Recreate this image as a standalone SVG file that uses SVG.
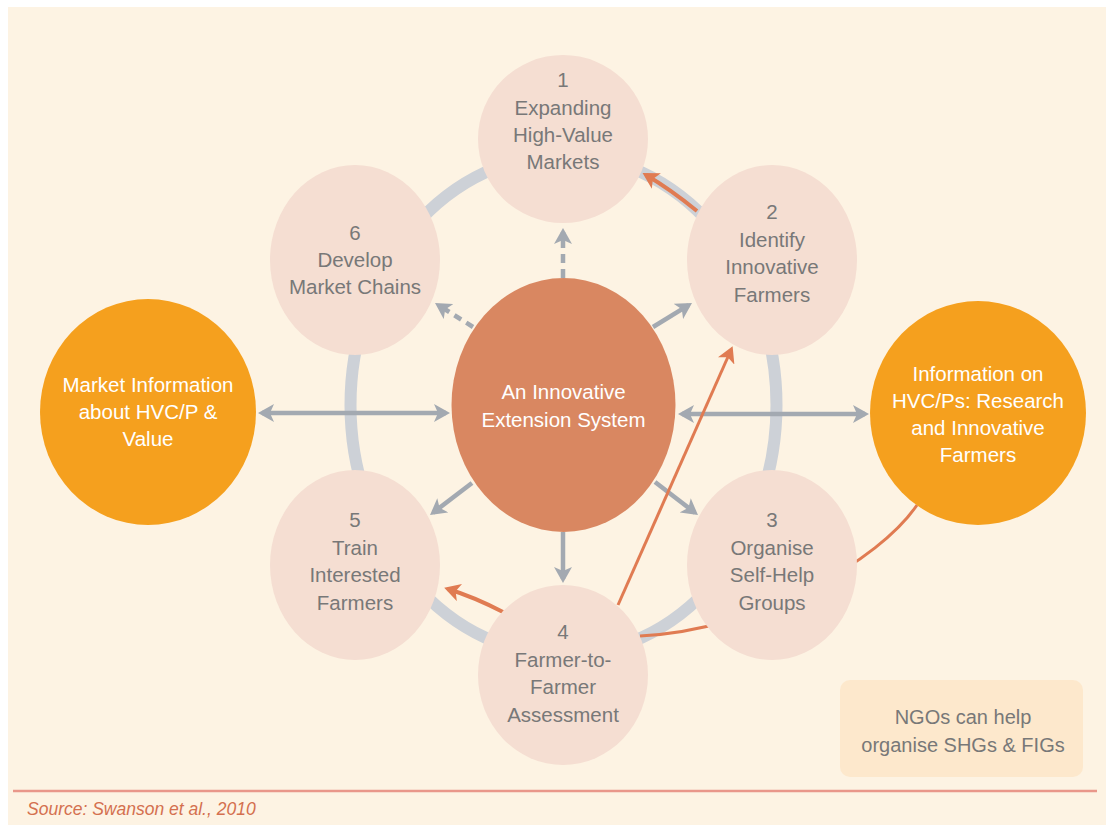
<svg xmlns="http://www.w3.org/2000/svg" width="1106" height="825" viewBox="0 0 1106 825">
<style>
.n{fill:#f5ded2}
.t{font-family:"Liberation Sans",Arial,sans-serif;font-size:20.5px;fill:#787878;text-anchor:middle}
.w{fill:#ffffff}
.g{stroke:#a3a9b1;stroke-width:4.5;fill:none}
.o{stroke:#e07b52;fill:none}
</style>
<defs>
<marker id="ag" markerUnits="userSpaceOnUse" markerWidth="16" markerHeight="18" viewBox="0 0 16 18" refX="12" refY="9" orient="auto-start-reverse">
<path d="M0,0 L16,9 L0,18 L4,9 Z" fill="#a3a9b1"/>
</marker>
<marker id="ao" markerUnits="userSpaceOnUse" markerWidth="16" markerHeight="18" viewBox="0 0 16 18" refX="12" refY="9" orient="auto">
<path d="M0,0 L16,9 L0,18 L4,9 Z" fill="#e07b52"/>
</marker>
</defs>
<rect x="0" y="0" width="1106" height="825" fill="#ffffff"/>
<rect x="8" y="7" width="1098" height="818" fill="#fdf3e3"/>
<ellipse cx="563.5" cy="405" rx="213" ry="250" fill="none" stroke="#cdd1d7" stroke-width="12"/>
<g id="connectors">
<line class="g" x1="563" y1="278" x2="563" y2="232" stroke-dasharray="9 6" marker-end="url(#ag)"/>
<line class="g" x1="473" y1="327" x2="438.4" y2="305.1" stroke-dasharray="8 6" marker-end="url(#ag)"/>
<line class="g" x1="653" y1="327" x2="688.6" y2="305.1" marker-end="url(#ag)"/>
<line class="g" x1="472" y1="483" x2="433.2" y2="512.6" marker-end="url(#ag)"/>
<line class="g" x1="655" y1="482" x2="694.8" y2="512.6" marker-end="url(#ag)"/>
<line class="g" x1="563" y1="532" x2="563" y2="579" marker-end="url(#ag)"/>
<line class="g" x1="262" y1="413" x2="446" y2="413" marker-start="url(#ag)" marker-end="url(#ag)"/>
<line class="g" x1="682" y1="414" x2="865" y2="414" marker-start="url(#ag)" marker-end="url(#ag)"/>
<path class="o" stroke-width="4" d="M697,211 Q670,189 646,175" marker-end="url(#ao)"/>
<path class="o" stroke-width="4" d="M503,612 Q474,597 448,589" marker-end="url(#ao)"/>
<line class="o" stroke-width="3" x1="618" y1="605" x2="731" y2="350" marker-end="url(#ao)"/>
<path class="o" stroke-width="3" d="M917,505 C880,560 760,630 640,636"/>
</g>
<g id="node1">
<ellipse class="n" cx="563" cy="139" rx="85" ry="84"/>
<text class="t" x="563" y="87">1</text>
<text class="t" x="563" y="115">Expanding</text>
<text class="t" x="563" y="142">High-Value</text>
<text class="t" x="563" y="169">Markets</text>
</g>
<g id="node2">
<ellipse class="n" cx="772" cy="260" rx="85" ry="95"/>
<text class="t" x="772" y="219">2</text>
<text class="t" x="772" y="247">Identify</text>
<text class="t" x="772" y="274">Innovative</text>
<text class="t" x="772" y="302">Farmers</text>
</g>
<g id="node3">
<ellipse class="n" cx="772" cy="565" rx="85" ry="95"/>
<text class="t" x="772" y="527">3</text>
<text class="t" x="772" y="555">Organise</text>
<text class="t" x="772" y="582">Self-Help</text>
<text class="t" x="772" y="610">Groups</text>
</g>
<g id="node4">
<ellipse class="n" cx="563" cy="675" rx="85" ry="90"/>
<text class="t" x="563" y="639">4</text>
<text class="t" x="563" y="667">Farmer-to-</text>
<text class="t" x="563" y="694">Farmer</text>
<text class="t" x="563" y="722">Assessment</text>
</g>
<g id="node5">
<ellipse class="n" cx="355" cy="565" rx="85" ry="95"/>
<text class="t" x="355" y="527">5</text>
<text class="t" x="355" y="555">Train</text>
<text class="t" x="355" y="582">Interested</text>
<text class="t" x="355" y="610">Farmers</text>
</g>
<g id="node6">
<ellipse class="n" cx="355" cy="260" rx="85" ry="95"/>
<text class="t" x="355" y="240">6</text>
<text class="t" x="355" y="267">Develop</text>
<text class="t" x="355" y="294">Market Chains</text>
</g>
<g id="center">
<ellipse cx="563.5" cy="405" rx="112" ry="127" fill="#d98761"/>
<text class="t w" x="563.5" y="399">An Innovative</text>
<text class="t w" x="563.5" y="427">Extension System</text>
</g>
<g id="market-info">
<ellipse cx="148" cy="412" rx="108" ry="113" fill="#f5a01e"/>
<text class="t w" x="148" y="392">Market Information</text>
<text class="t w" x="148" y="419">about HVC/P &amp;</text>
<text class="t w" x="148" y="446">Value</text>
</g>
<g id="hvc-info">
<ellipse cx="978" cy="413" rx="108" ry="112" fill="#f5a01e"/>
<text class="t w" x="978" y="381">Information on</text>
<text class="t w" x="978" y="408">HVC/Ps: Research</text>
<text class="t w" x="978" y="435">and Innovative</text>
<text class="t w" x="978" y="462">Farmers</text>
</g>
<g id="ngo-note">
<rect x="840" y="680" width="243" height="97" rx="10" fill="#fde8cc"/>
<text class="t" x="963" y="724" style="font-size:20px">NGOs can help</text>
<text class="t" x="963" y="752" style="font-size:20px">organise SHGs &amp; FIGs</text>
</g>
<line x1="13" y1="791" x2="1097" y2="791" stroke="#e9978a" stroke-width="2.5"/>
<text x="27" y="815" style="font-family:'Liberation Sans',Arial,sans-serif;font-size:17.5px;font-style:italic;fill:#d4704f">Source: Swanson et al., 2010</text>
</svg>
